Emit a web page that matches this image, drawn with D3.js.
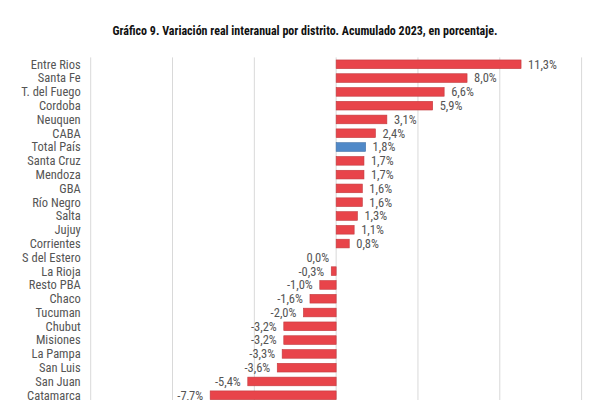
<!DOCTYPE html>
<html>
<head>
<meta charset="utf-8">
<script src="https://cdn.jsdelivr.net/npm/d3@7"></script>
<style>
  body { margin: 0; background: #fff; }
  text { font-family: "Liberation Sans Narrow", "Roboto Condensed", "DejaVu Sans Condensed", sans-serif; }
</style>
</head>
<body>
<div id="chart"></div>
<script>
// data (percent, cumulative 2023)
const districts = ["Entre Rios", "Santa Fe", "T. del Fuego", "Cordoba", "Neuquen", "CABA",
    "Total País", "Santa Cruz", "Mendoza", "GBA", "Río Negro", "Salta", "Jujuy", "Corrientes",
    "S del Estero", "La Rioja", "Resto PBA", "Chaco", "Tucuman", "Chubut", "Misiones",
    "La Pampa", "San Luis", "San Juan", "Catamarca"];
const values = [11.3, 8.0, 6.6, 5.9, 3.1, 2.4, 1.8, 1.7, 1.7, 1.6, 1.6, 1.3, 1.1, 0.8,
    0.0, -0.3, -1.0, -1.6, -2.0, -3.2, -3.2, -3.3, -3.6, -5.4, -7.7];
const xTicks = [-15, -10, -5, 0, 5, 10, 15];
const title = "Gráfico 9. Variación real interanual por distrito. Acumulado 2023, en porcentaje.";
const totalName = "Total País";

const width = 600, height = 400;
const red = "#e8444a", redEdge = "#c23a3e",
    blue = "#5089c8", blueEdge = "#3f6fa6",
    grid = "#d9d9d9", labelColor = "#555";

const data = districts.map((d, i) => ({ name: d, value: values[i] }));

const locale = d3.formatLocale({ decimal: ",", thousands: ".", grouping: [3], currency: ["", ""], minus: "-" });
const fmt = v => locale.format(".1f")(v) + "%";

const x = d3.scaleLinear().domain([-15, 15]).range([90.7, 581.6]);
const y = d3.scaleBand()
    .domain(districts)
    .range([57.4, 57.4 + districts.length * 13.79])
    .paddingInner(0.37)
    .paddingOuter(0.185);

const svg = d3.select("#chart").append("svg")
    .attr("width", width)
    .attr("height", height);

svg.append("text")
    .attr("x", 305)
    .attr("y", 31)
    .attr("dy", "0.35em")
    .attr("text-anchor", "middle")
    .attr("font-weight", "bold")
    .attr("font-size", 12)
    .attr("fill", "#111")
    .text(title);

// vertical gridlines
svg.append("g")
    .selectAll("line")
    .data(xTicks)
    .enter()
    .append("line")
    .attr("x1", d => x(d))
    .attr("x2", d => x(d))
    .attr("y1", y.range()[0])
    .attr("y2", y.range()[1])
    .attr("stroke", grid)
    .attr("stroke-width", 1);

const row = svg.append("g")
    .selectAll("g")
    .data(data)
    .enter()
    .append("g");

row.append("rect")
    .attr("x", d => x(Math.min(0, d.value)))
    .attr("y", d => y(d.name))
    .attr("width", d => Math.abs(x(d.value) - x(0)))
    .attr("height", y.bandwidth())
    .attr("fill", d => d.name === totalName ? blue : red)
    .attr("stroke", d => d.name === totalName ? blueEdge : redEdge)
    .attr("stroke-width", 0.6);

row.append("text")
    .attr("x", 80.7)
    .attr("y", d => y(d.name) + y.bandwidth() / 2)
    .attr("dy", "0.35em")
    .attr("text-anchor", "end")
    .attr("font-size", 12.5)
    .attr("fill", labelColor)
    .text(d => d.name);

row.append("text")
    .attr("x", d => d.value > 0 ? x(d.value) + 7 : x(d.value) - 7)
    .attr("y", d => y(d.name) + y.bandwidth() / 2)
    .attr("dy", "0.35em")
    .attr("text-anchor", d => d.value > 0 ? "start" : "end")
    .attr("font-size", 12.5)
    .attr("fill", labelColor)
    .text(d => fmt(d.value));
</script>
</body>
</html>
